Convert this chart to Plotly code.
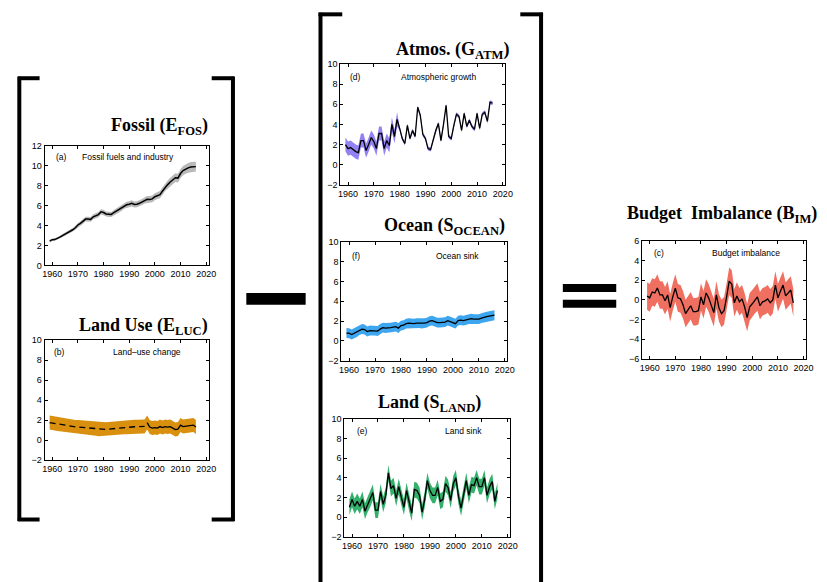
import plotly.graph_objects as go

W, H = 827, 582
YEARS = list(range(1959, 2017))

FOSSIL = [2.44, 2.58, 2.59, 2.69, 2.83, 2.99, 3.13, 3.29, 3.39, 3.57,
          3.77, 4.05, 4.21, 4.40, 4.64, 4.64, 4.61, 4.87, 5.02, 5.09,
          5.36, 5.30, 5.15, 5.11, 5.10, 5.28, 5.44, 5.60, 5.74, 5.96,
          6.07, 6.13, 6.21, 6.10, 6.12, 6.22, 6.37, 6.52, 6.62, 6.61,
          6.66, 6.88, 7.00, 7.09, 7.45, 7.83, 8.09, 8.35, 8.56, 8.78,
          8.74, 9.20, 9.49, 9.66, 9.77, 9.85, 9.86, 9.89]
FOSSIL_UNC_FRAC = 0.05

ELUC = [1.75, 1.70, 1.65, 1.60, 1.55, 1.50, 1.45, 1.42, 1.38, 1.35,
        1.32, 1.30, 1.28, 1.25, 1.22, 1.20, 1.18, 1.15, 1.12, 1.08,
        1.05, 1.05, 1.07, 1.10, 1.13, 1.16, 1.19, 1.22, 1.25, 1.27,
        1.29, 1.31, 1.32, 1.33, 1.34, 1.35, 1.35, 1.36,
        1.75, 1.30, 1.20, 1.25, 1.20, 1.35, 1.25, 1.35, 1.30, 1.35,
        1.20, 1.05, 1.10, 1.50, 1.35, 1.40, 1.40, 1.45, 1.50, 1.30]
ELUC_UNC = 0.7
ELUC_SPLIT_YEAR = 1997

ATM = [2.0, 1.6, 1.7, 1.5, 1.3, 1.2, 2.4, 2.4, 1.4, 2.0,
       2.7, 2.3, 1.6, 3.1, 3.1, 1.6, 2.4, 1.9, 4.0, 2.8,
       4.5, 3.6, 2.6, 2.1, 3.9, 2.6, 3.4, 2.8, 5.7, 4.9,
       3.0, 2.6, 1.6, 1.5, 2.5, 3.4, 4.1, 2.4, 4.0, 5.9,
       2.8, 2.6, 3.9, 5.0, 4.8, 3.4, 5.1, 3.8, 4.4, 3.8,
       3.5, 5.1, 3.6, 5.0, 5.2, 4.3, 6.2, 6.1]
ATM_UNC_EARLY = 0.7
ATM_UNC_LATE = 0.2
ATM_UNC_SPLIT_YEAR = 1980

OCEAN = [0.80, 0.78, 0.65, 0.80, 0.90, 1.10, 1.20, 1.15, 0.95, 1.05,
         1.05, 1.05, 1.00, 1.20, 1.35, 1.30, 1.30, 1.35, 1.40, 1.45,
         1.30, 1.55, 1.60, 1.75, 1.80, 1.75, 1.75, 1.80, 1.80, 1.75,
         1.80, 1.85, 2.00, 2.05, 1.95, 1.85, 1.85, 1.85, 1.90, 2.05,
         1.95, 1.85, 1.75, 2.05, 2.10, 2.05, 2.10, 2.20, 2.25, 2.20,
         2.20, 2.20, 2.30, 2.40, 2.45, 2.50, 2.55, 2.60]
OCEAN_UNC = 0.5

LAND = [1.0, 1.8, 1.1, 1.6, 1.1, 1.8, 0.6, 1.3, 1.8, 2.5,
        0.7, 0.7, 2.6, 1.3, 2.2, 4.5, 2.9, 3.2, 1.9, 3.1,
        2.0, 1.0, 2.7, 1.4, 0.4, 2.8, 2.7, 2.2, 0.5, 1.8,
        3.7, 2.7, 2.2, 2.2, 3.0, 1.6, 1.8, 3.4, 3.0, 1.7,
        3.4, 4.0, 2.1, 0.9, 2.3, 3.7, 2.2, 3.3, 3.2, 4.0,
        3.1, 3.1, 4.0, 2.2, 3.1, 3.6, 1.6, 2.7]
LAND_UNC = 0.8

BIM = [0.4, 0.2, 0.8, 0.7, 1.2, 0.5, 0.5, -0.1, 0.5, -0.8,
       0.3, 1.2, 0.2, 0.1, -0.5, -1.4, -1.0, -0.6, -1.2, -1.2,
       -1.1, 0.3, -0.5, 0.7, 0.2, -0.6, -1.3, 0.5, -0.8, -1.4,
       -1.1, 0.3, 1.9, 1.6, -0.3, 0.4, -0.2, 0.1, -0.7, -1.8,
       -0.7, -0.4, 0.0, 0.3, -0.6, -0.2, -0.1, 0.1, -0.3, 0.0,
       1.5, 0.2, 0.9, 1.5, 0.4, 0.7, 1.0, -0.3]
BIM_UNC = 1.4

X_TICKS = [1960, 1970, 1980, 1990, 2000, 2010, 2020]
Y_TICKS_A = [0, 2, 4, 6, 8, 10, 12]
Y_TICKS_STD = [-2, 0, 2, 4, 6, 8, 10]
Y_TICKS_C = [-6, -4, -2, 0, 2, 4, 6]
X_RANGE = [1957, 2021]

COL_FOS = "#b9b9b9"
COL_LUC = "#d8900e"
COL_ATM = "#9282f2"
COL_OCN = "#3ea6ef"
COL_LND = "#33b06c"
COL_BIM = "#ef6f60"


def px_x(p):
    return p / W


def px_y(p):
    return 1 - p / H


PANELS = {
    "a": dict(x=(43, 209), y=(143, 265), yr=[0, 12], yt=Y_TICKS_A),
    "b": dict(x=(43, 209), y=(341, 463), yr=[-2, 10], yt=Y_TICKS_STD),
    "d": dict(x=(342, 509), y=(60, 183), yr=[-2, 10], yt=Y_TICKS_STD),
    "f": dict(x=(343, 511), y=(241, 362), yr=[-2, 10], yt=Y_TICKS_STD),
    "e": dict(x=(346, 514), y=(421, 541), yr=[-2, 10], yt=Y_TICKS_STD),
    "c": dict(x=(647, 813), y=(240, 360), yr=[-6, 6], yt=Y_TICKS_C),
}
ORDER = ["a", "b", "d", "f", "e", "c"]

fig = go.Figure()
layout = dict(width=W, height=H, margin=dict(l=0, r=0, t=0, b=0),
              paper_bgcolor="white", plot_bgcolor="white", showlegend=False)

tickfont = dict(family="Liberation Sans, Arial, sans-serif", size=9, color="black")
axis_ref = {}
for i, key in enumerate(ORDER):
    p = PANELS[key]
    n = "" if i == 0 else str(i + 1)
    xa, ya = "xaxis" + n, "yaxis" + n
    axis_ref[key] = ("x" + n, "y" + n)
    common = dict(showgrid=False, zeroline=False, showline=True, linecolor="black",
                  linewidth=1, mirror="ticks", ticks="inside", ticklen=3,
                  tickwidth=1, tickcolor="black", tickfont=tickfont)
    layout[xa] = dict(domain=[px_x(p["x"][0]), px_x(p["x"][1])], range=X_RANGE,
                      tickvals=X_TICKS, anchor="y" + n, **common)
    layout[ya] = dict(domain=[px_y(p["y"][1]), px_y(p["y"][0])], range=p["yr"],
                      tickvals=p["yt"], anchor="x" + n, **common)


def band(key, years, lo, hi, color):
    xr, yr = axis_ref[key]
    fig.add_trace(go.Scatter(x=years + years[::-1], y=hi + lo[::-1], fill="toself",
                             fillcolor=color, line=dict(width=0), mode="lines",
                             hoverinfo="skip", xaxis=xr, yaxis=yr))


def line(key, years, vals, dash="solid", width=1.3):
    xr, yr = axis_ref[key]
    fig.add_trace(go.Scatter(x=years, y=vals, mode="lines",
                             line=dict(color="black", width=width, dash=dash),
                             xaxis=xr, yaxis=yr))


band("a", YEARS, [v * (1 - FOSSIL_UNC_FRAC) for v in FOSSIL],
     [v * (1 + FOSSIL_UNC_FRAC) for v in FOSSIL], COL_FOS)
line("a", YEARS, FOSSIL, width=1.5)

band("b", YEARS, [v - ELUC_UNC for v in ELUC], [v + ELUC_UNC for v in ELUC], COL_LUC)
early = [(y, v) for y, v in zip(YEARS, ELUC) if y < ELUC_SPLIT_YEAR]
late = [(y, v) for y, v in zip(YEARS, ELUC) if y >= ELUC_SPLIT_YEAR]
line("b", [y for y, _ in early], [v for _, v in early], dash="6px,4px")
line("b", [y for y, _ in late], [v for _, v in late])

atm_unc = [ATM_UNC_EARLY if y < ATM_UNC_SPLIT_YEAR else ATM_UNC_LATE for y in YEARS]
band("d", YEARS, [v - u for v, u in zip(ATM, atm_unc)], [v + u for v, u in zip(ATM, atm_unc)], COL_ATM)
line("d", YEARS, ATM)

band("f", YEARS, [v - OCEAN_UNC for v in OCEAN], [v + OCEAN_UNC for v in OCEAN], COL_OCN)
line("f", YEARS, OCEAN)

band("e", YEARS, [v - LAND_UNC for v in LAND], [v + LAND_UNC for v in LAND], COL_LND)
line("e", YEARS, LAND)

band("c", YEARS, [v - BIM_UNC for v in BIM], [v + BIM_UNC for v in BIM], COL_BIM)
line("c", YEARS, BIM)

annotations = []
TITLE_FONT = dict(family="Liberation Serif, Times New Roman, serif", size=18, color="black")
TITLES = [
    ("<b>Fossil (E<sub>FOS</sub>)</b>", 210, 124, "right"),
    ("<b>Land Use (E<sub>LUC</sub>)</b>", 210, 327, "right"),
    ("<b>Atmos. (G<sub>ATM</sub>)</b>", 515, 46, "right"),
    ("<b>Ocean (S<sub>OCEAN</sub>)</b>", 511, 225, "right"),
    ("<b>Land (S<sub>LAND</sub>)</b>", 486, 405, "right"),
    ("<b>Budget  Imbalance (B<sub>IM</sub>)</b>", 630, 213, "left"),
]
for txt, xr_, yc, anc in TITLES:
    annotations.append(dict(text=txt, x=px_x(xr_), y=px_y(yc), xref="paper", yref="paper",
                            xanchor=anc, yanchor="middle", showarrow=False, font=TITLE_FONT))

LABEL_FONT = dict(family="Liberation Sans, Arial, sans-serif", size=8.5, color="black")
LABELS = [
    ("(a)", 53, 155), ("Fossil fuels and industry", 79, 155),
    ("(b)", 51, 353), ("Land\u2013use change", 110, 353),
    ("(d)", 350, 73), ("Atmospheric growth", 401, 73),
    ("(f)", 352, 255), ("Ocean sink", 437, 255),
    ("(e)", 357, 433), ("Land sink", 446, 433),
    ("(c)", 657, 252), ("Budget imbalance", 716, 252),
]
for txt, xl, yc in LABELS:
    annotations.append(dict(text=txt, x=px_x(xl), y=px_y(yc), xref="paper", yref="paper",
                            xanchor="left", yanchor="middle", showarrow=False, font=LABEL_FONT))
layout["annotations"] = annotations

shapes = []


def seg(x0, y0, x1, y1, w=4):
    shapes.append(dict(type="line", xref="paper", yref="paper",
                       x0=px_x(x0), y0=px_y(y0), x1=px_x(x1), y1=px_y(y1),
                       line=dict(color="black", width=w)))


def rect(x0, y0, x1, y1):
    shapes.append(dict(type="rect", xref="paper", yref="paper",
                       x0=px_x(x0), y0=px_y(y0), x1=px_x(x1), y1=px_y(y1),
                       fillcolor="black", line=dict(width=0)))


seg(17.5, 73, 17.5, 525)
seg(16, 74.5, 38, 74.5)
seg(16, 523.5, 38, 523.5)
seg(233.5, 73, 233.5, 525)
seg(212, 74.5, 235, 74.5)
seg(212, 523.5, 235, 523.5)
seg(322, 8, 322, 590)
seg(320, 9.5, 344, 9.5)
seg(545, 8, 545, 590)
seg(524, 9.5, 547, 9.5)
rect(247, 293, 307, 305)
rect(567, 284, 621, 292)
rect(567, 300, 621, 308)
layout["shapes"] = shapes

fig.update_layout(**layout)
fig.write_html("out.html", config={"displayModeBar": False},
               post_script="document.body.style.margin='0px';document.body.style.overflow='hidden';")
